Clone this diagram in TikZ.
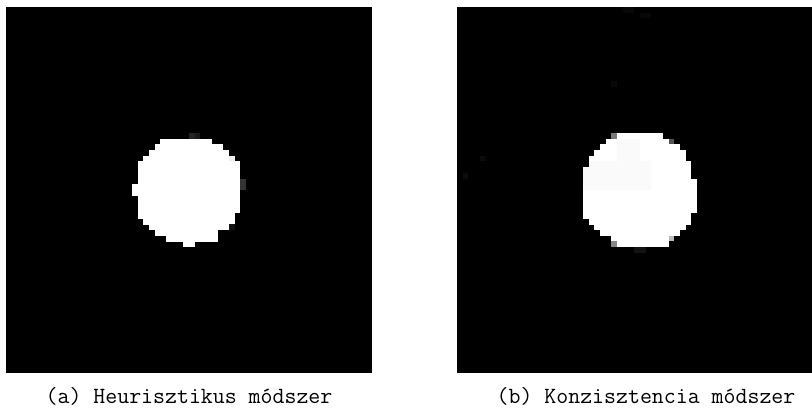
\documentclass[tikz,border=0pt]{standalone}
\usepackage{tikz}
\usetikzlibrary{positioning}

\begin{document}
\begin{tikzpicture}[x=0.5pt,y=-0.5pt,
    imgbox/.style={fill=black,inner sep=0pt,outer sep=0pt,anchor=north west,minimum height=183pt},
    captext/.style={font=\fontsize{11.6}{14}\selectfont\ttfamily,anchor=base},
    pix/.style={fill=white}]
    \def\px{5.71875}
    \useasboundingbox (0,0) rectangle (812,415);
    % Heuristic result
    \node[imgbox,minimum width=183pt] (imgA) at (6,7) {};
    \begin{scope}[shift={(imgA.north west)}]
      \foreach \r/\a/\b in {23/27/35,24/26/37,25/25/38,26/24/38,27/23/40,28/23/40,29/23/40,30/23/40,
          31/22/40,32/22/40,33/23/40,34/23/40,35/23/40,36/23/39,37/24/39,38/25/38,39/26/36,40/28/36,41/31/32}
        \fill[pix] (\a*\px,\r*\px) rectangle ({(\b+1)*\px},{(\r+1)*\px+0.3});
      \foreach \r/\c/\g in {22/32/14,22/33/10,26/39/93,30/41/20,31/41/20,38/39/7}
        \fill[white!\g!black] (\c*\px,\r*\px) rectangle ({(\c+1)*\px},{(\r+1)*\px});
    \end{scope}
    \node[captext] (capA) at (189,404) {(a) Heurisztikus módszer};
    % Consistency result
    \node[imgbox,minimum width=177.5pt] (imgB) at (457,7) {};
    \begin{scope}[shift={(imgB.north west)}]
      \foreach \r/\a/\b in {22/28/35,23/26/36,24/25/38,25/24/39,26/23/39,27/23/40,28/22/40,29/22/40,
          30/22/41,31/22/41,32/22/41,33/22/41,34/22/41,35/22/41,36/22/40,37/23/40,38/24/39,39/25/38,40/27/36,41/28/36}
        \fill[pix] (\a*\px,\r*\px) rectangle ({(\b+1)*\px},{(\r+1)*\px+0.3});
      \foreach \r/\a/\b in {28/22/33,29/22/33,30/22/33,31/22/33,27/23/33,23/28/31,24/28/31,25/28/31,26/28/31}
        \fill[white!98!black] (\a*\px,\r*\px) rectangle ({(\b+1)*\px},{(\r+1)*\px+0.3});
      \foreach \r/\c/\g in {22/27/47,23/37/33,40/37/73,41/27/53,42/31/7,42/32/7,
          0/29/3,0/30/3,1/32/3,1/33/3,26/4/4,29/1/4,13/27/3}
        \fill[white!\g!black] (\c*\px,\r*\px) rectangle ({(\c+1)*\px},{(\r+1)*\px});
    \end{scope}
    \node[captext] (capB) at (646,404) {(b) Konzisztencia módszer};
\end{tikzpicture}
\end{document}
